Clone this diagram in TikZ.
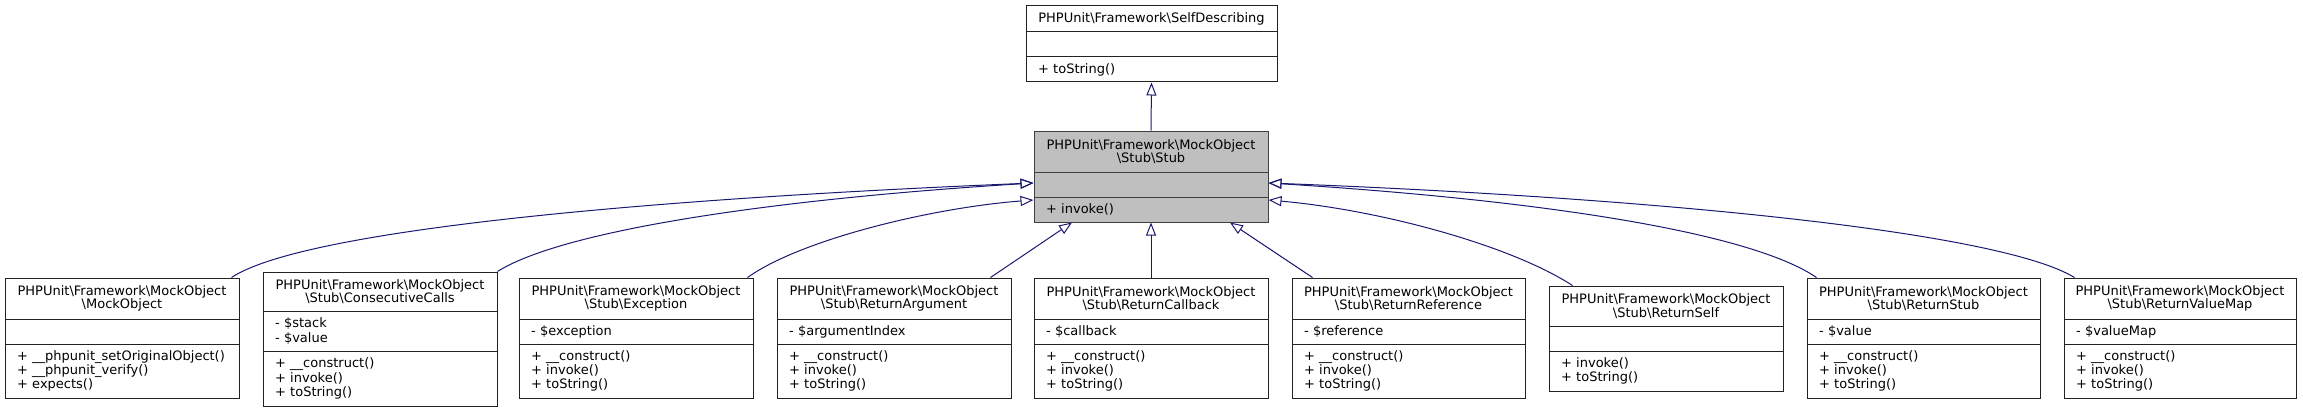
\documentclass[tikz,border=0pt]{standalone}
\usepackage{fontspec}
\setmainfont{DejaVu Sans}
\usetikzlibrary{arrows.meta}
\definecolor{edgec}{HTML}{191970}
\definecolor{stubfill}{HTML}{BFBFBF}
\definecolor{boxc}{HTML}{222222}
\definecolor{stubline}{HTML}{404040}
\newcommand\bs{\textbackslash}
\tikzset{
  cls/.style={draw=boxc, line width=1pt, rectangle, inner sep=0pt, fill=white},
  divl/.style={draw=boxc, line width=1pt},
  stubcls/.style={fill=stubfill, draw=stubline},
  ttl/.style={inner sep=0pt, align=center, font=\fontsize{13}{13.6}\selectfont},
  lst/.style={inner sep=0pt, align=left, anchor=west, font=\fontsize{13}{14.3}\selectfont},
  inh/.style={draw=edgec, line width=1pt, -{Triangle[open, length=13pt, width=10pt]}},
}
% [style]{name}{x1}{x2}{ytop}{ydiv1}{ydiv2}{ybot}
\newcommand\cbox[8][]{%
  \node[cls, #1, minimum width={#4-#3}, minimum height={#8-#5}] (#2) at ({(#3+#4)/2},{(#5+#8)/2}) {};
  \draw[divl, #1] (#3,#6) -- (#4,#6) (#3,#7) -- (#4,#7);
  \coordinate (#2-t) at ({(#3+#4)/2},{(#5+#6)/2});
  \coordinate (#2-a) at ({#3+12},{(#6+#7)/2});
  \coordinate (#2-m) at ({#3+12},{(#7+#8)/2});
}
\newcommand\ctitle[2]{\node[ttl] (#1-title) at (#1-t) {#2};}
\newcommand\cattr[2]{\node[lst] (#1-attrs) at (#1-a) {#2};}
\newcommand\cmeth[2]{\node[lst] (#1-meth) at (#1-m) {#2};}
\newcommand\cmi{+ \_\_construct()\\+ invoke()\\+ toString()}
\begin{document}
\begin{tikzpicture}[x=1pt, y=-1pt]
\useasboundingbox (0,0) rectangle (2303,412);
% top
\cbox{sd}{1026}{1277}{6}{32}{57}{82}
\ctitle{sd}{PHPUnit\bs Framework\bs SelfDescribing}
\cmeth{sd}{+ toString()}
\cbox[stubcls]{stub}{1034}{1268}{131}{172}{197}{222}
\ctitle{stub}{PHPUnit\bs Framework\bs MockObject\\\bs Stub\bs Stub}
\cmeth{stub}{+ invoke()}
% bottom row
\cbox{mock}{5}{239}{278}{319}{344}{398}
\ctitle{mock}{PHPUnit\bs Framework\bs MockObject\\\bs MockObject}
\cmeth{mock}{+ \_\_phpunit\_setOriginalObject()\\+ \_\_phpunit\_verify()\\+ expects()}
\cbox{cons}{263}{497}{272}{311}{351}{406}
\ctitle{cons}{PHPUnit\bs Framework\bs MockObject\\\bs Stub\bs ConsecutiveCalls}
\cattr{cons}{- \$stack\\- \$value}
\cmeth{cons}{\cmi}
\cbox{exc}{519}{753}{278}{319}{344}{398}
\ctitle{exc}{PHPUnit\bs Framework\bs MockObject\\\bs Stub\bs Exception}
\cattr{exc}{- \$exception}
\cmeth{exc}{\cmi}
\cbox{rarg}{777}{1011}{278}{319}{344}{398}
\ctitle{rarg}{PHPUnit\bs Framework\bs MockObject\\\bs Stub\bs ReturnArgument}
\cattr{rarg}{- \$argumentIndex}
\cmeth{rarg}{\cmi}
\cbox{rcb}{1034}{1268}{278}{319}{344}{398}
\ctitle{rcb}{PHPUnit\bs Framework\bs MockObject\\\bs Stub\bs ReturnCallback}
\cattr{rcb}{- \$callback}
\cmeth{rcb}{\cmi}
\cbox{rref}{1292}{1525}{278}{319}{344}{398}
\ctitle{rref}{PHPUnit\bs Framework\bs MockObject\\\bs Stub\bs ReturnReference}
\cattr{rref}{- \$reference}
\cmeth{rref}{\cmi}
\cbox{rself}{1549}{1783}{286}{326}{351}{391}
\ctitle{rself}{PHPUnit\bs Framework\bs MockObject\\\bs Stub\bs ReturnSelf}
\cmeth{rself}{+ invoke()\\+ toString()}
\cbox{rstub}{1807}{2040}{278}{319}{344}{398}
\ctitle{rstub}{PHPUnit\bs Framework\bs MockObject\\\bs Stub\bs ReturnStub}
\cattr{rstub}{- \$value}
\cmeth{rstub}{\cmi}
\cbox{rvm}{2064}{2296}{278}{319}{344}{398}
\ctitle{rvm}{PHPUnit\bs Framework\bs MockObject\\\bs Stub\bs ReturnValueMap}
\cattr{rvm}{- \$valueMap}
\cmeth{rvm}{\cmi}
% edges
\draw[inh] (stub.north) -- (sd.south);
\draw[inh] ([xshift=-8pt]mock.north east) .. controls (300,232) and (620,200) .. ([yshift=-6.5pt]stub.west);
\draw[inh] (cons.north east) .. controls (560,232) and (760,200) .. ([yshift=-6.5pt]stub.west);
\draw[inh] ([xshift=-6pt]exc.north east) .. controls (800,240) and (930,208) .. ([yshift=-23.5pt]stub.west);
\draw[inh] ([xshift=-21pt]rarg.north east) -- ([xshift=-79pt]stub.south);
\draw[inh] (rcb.north) -- (stub.south);
\draw[inh] ([xshift=21pt]rref.north west) -- ([xshift=79pt]stub.south);
\draw[inh] ([xshift=24pt]rself.north west) .. controls (1510,245) and (1380,210) .. ([yshift=-23.5pt]stub.east);
\draw[inh] ([xshift=10pt]rstub.north west) .. controls (1750,232) and (1540,200) .. ([yshift=-6.5pt]stub.east);
\draw[inh] ([xshift=11pt]rvm.north west) .. controls (2000,232) and (1660,198) .. ([yshift=-6.5pt]stub.east);
\end{tikzpicture}
\end{document}
